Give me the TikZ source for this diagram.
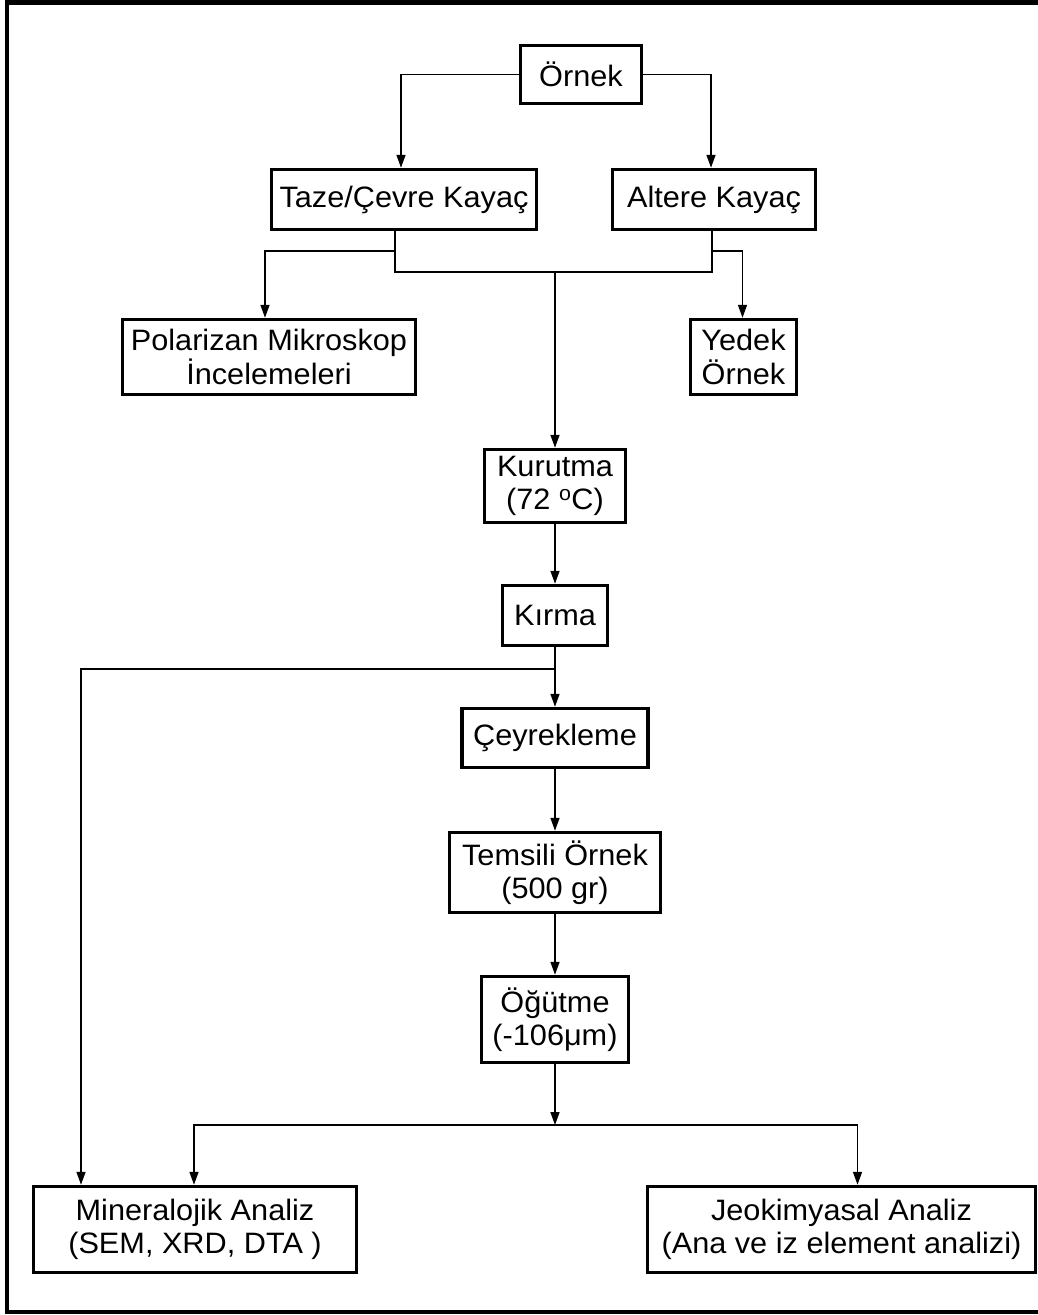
\documentclass[tikz,border=0pt]{standalone}
\usepackage{fontspec}
\setmainfont[FakeStretch=1.04]{Liberation Sans}
\usetikzlibrary{arrows.meta,positioning}

\begin{document}
\begin{tikzpicture}[
  x=1pt, y=-1pt,
  every node/.style={font=\fontsize{29.5}{33.5}\selectfont},
  box/.style={draw=black, line width=3.5pt, fill=white, align=center, inner sep=0pt},
  arr/.style={-{Triangle[length=13pt,width=9pt]}, line width=1.6pt},
  link/.style={line width=1.6pt},
  frame/.style={draw=black, line width=4.5pt},
]
  \useasboundingbox (0,0) rectangle (1038,1315);
  \draw[frame] (7,2.5) rectangle (1060,1312);

  \node[box, minimum width=121pt, minimum height=58pt] (ornek) at (581,74.5) {Örnek};
  \node[box, minimum width=265pt, minimum height=60pt] (taze) at (404,199.5) {Taze/Çevre Kayaç};
  \node[box, minimum width=203pt, minimum height=60pt] (altere) at (714,199.5) {Altere Kayaç};
  \node[box, minimum width=293pt, minimum height=75pt] (polar) at (269,357) {Polarizan Mikroskop\\İncelemeleri};
  \node[box, minimum width=106pt, minimum height=75pt] (yedek) at (743.5,357) {Yedek\\Örnek};
  \node[box, minimum width=141pt, minimum height=73pt] (kurutma) at (555,486) {Kurutma\\(72 \textsuperscript{o}C)};
  \node[box, minimum width=105pt, minimum height=60pt] (kirma) at (555,615.5) {Kırma};
  \node[box, minimum width=186pt, minimum height=59pt] (ceyrek) at (555,738) {Çeyrekleme};
  \node[box, minimum width=211pt, minimum height=80pt] (temsili) at (555,872.5) {Temsili Örnek\\(500 gr)};
  \node[box, minimum width=147pt, minimum height=86pt] (ogutme) at (555,1019.5) {Öğütme\\(-106μm)};
  \node[box, minimum width=323pt, minimum height=86pt] (miner) at (195,1229.5) {Mineralojik Analiz\\(SEM, XRD, DTA )};
  \node[box, minimum width=388pt, minimum height=86pt] (jeoki) at (841.5,1229.5) {Jeokimyasal Analiz\\(Ana ve iz element analizi)};

  \coordinate (join) at (555,272);
  \coordinate (split) at (555,669);
  \coordinate (fork) at (555,1125);

  \draw[arr] (ornek.west) -| ([xshift=-3pt]taze.north);
  \draw[arr] (ornek.east) -| ([xshift=-3pt]altere.north);
  \draw[link] ([xshift=-9pt]taze.south) |- (join) -| ([xshift=-2pt]altere.south);
  \draw[arr] ([xshift=-9pt]taze.south) ++(0,20) -| ([xshift=-4pt]polar.north);
  \draw[arr] ([xshift=-2pt]altere.south) ++(0,20) -| ([xshift=-1pt]yedek.north);
  \draw[arr] (join) -- (kurutma);
  \draw[arr] (kurutma) -- (kirma);
  \draw[arr] (kirma) -- (ceyrek);
  \draw[arr] (split) -| ([xshift=-114pt]miner.north);
  \draw[arr] (ceyrek) -- (temsili);
  \draw[arr] (temsili) -- (ogutme);
  \draw[arr] (ogutme) -- (fork);
  \draw[arr] (fork) -| ([xshift=-1pt]miner.north);
  \draw[arr] (fork) -| ([xshift=16pt]jeoki.north);
\end{tikzpicture}
\end{document}
